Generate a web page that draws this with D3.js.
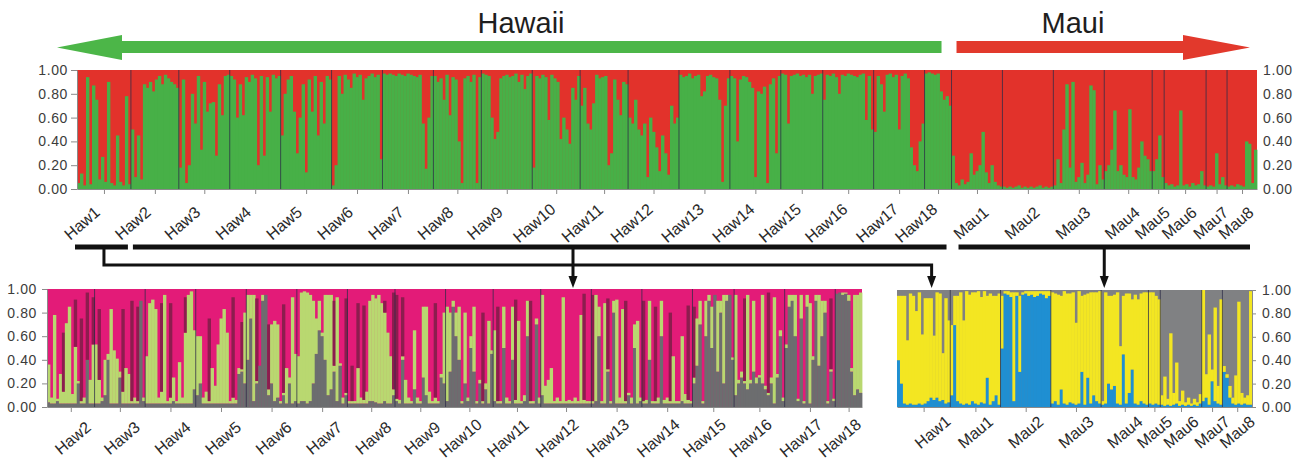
<!DOCTYPE html>
<html><head><meta charset="utf-8">
<script src="https://cdn.jsdelivr.net/npm/d3@7"></script>
<style>
body{margin:0;background:#fff;}
svg{display:block;font-family:"Liberation Sans",Arial,sans-serif;}
</style></head><body>
<svg id="c" width="1306" height="468"></svg>
<script>
// ---------- DATA ----------
const yTicks = [0, 0.2, 0.4, 0.6, 0.8, 1.0];
const regionNames = ["Hawaii", "Maui"];

// Top panel (K=2): percent membership in green (Hawaii) cluster, rest red (Maui)
const topPops = ["Haw1","Haw2","Haw3","Haw4","Haw5","Haw6","Haw7","Haw8","Haw9","Haw10","Haw11","Haw12","Haw13","Haw14","Haw15","Haw16","Haw17","Haw18","Mau1","Mau2","Mau3","Mau4","Mau5","Mau6","Mau7","Mau8"];
const topGreen = [
 [5,13,3,94,4,87,75,8,27,6,90,5,3,45,6,3,78,4],
 [50,10,45,8,88,85,90,82,92,95,88,96,93,90,88,85],
 [18,92,5,20,80,55,95,33,90,65,72,73,28,88,62,95,96],
 [95,92,60,88,62,94,90,96,93,20,95,28,94,65,96,93,95],
 [45,80,92,95,65,30,60,88,14,92,65,95,45,90,55,95,92],
 [3,20,95,80,96,92,85,97,94,96,75,93,95,97,94,96,25],
 [97,96,97,96,95,97,96,95,97,96,95,94,96,55,17,60,95],
 [95,90,93,75,96,62,94,92,40,5,93,95,90,96,5,94],
 [97,96,95,60,42,48,93,95,96,94,95,97,90,96,84,95,97],
 [18,95,93,96,94,58,96,93,90,42,60,50,38,85,75,95],
 [70,85,55,50,72,96,93,94,95,20,30,92,75,62,90,88],
 [60,55,75,50,45,55,10,60,48,35,15,45,30,12,70,55,60],
 [96,94,95,97,93,95,96,78,82,95,96,94,93,75,6,70,93],
 [95,93,40,92,95,94,90,85,10,82,80,86,5,88,93,30,95],
 [97,96,55,95,96,97,95,96,94,96,80,95,96,97],
 [75,96,95,97,94,80,96,95,97,96,95,94,96,97,58,95,50],
 [48,95,88,65,96,97,94,96,50,95,97,93,35,20,15,40,55],
 [97,98,97,96,97,82,75,78,70],
 [28,5,3,8,4,6,30,12,15,20,48,14,5,20,6,3,2],
 [2,1,2,1,2,3,1,2,1,2,1,2,3,1,2,1,2],
 [3,25,5,50,88,18,90,6,10,22,5,12,87,83,4,20,8],
 [15,20,33,66,15,20,12,10,67,10,8,18,40,28,25,15],
 [15,25,45,10],
 [5,3,4,2,3,66,3,4,2,5,3,4,15,3],
 [2,3,2,30,4,10,3],
 [2,3,2,4,3,2,40,38,5,33]
];

// Bottom-left panel (Hawaii only): percent [gray, light green, maroon], rest magenta
const blPops = ["Haw2","Haw3","Haw4","Haw5","Haw6","Haw7","Haw8","Haw9","Haw10","Haw11","Haw12","Haw13","Haw14","Haw15","Haw16","Haw17","Haw18"];
const blQ = [
 [[4,32,0],[3,5,0],[3,75,0],[5,2,0],[3,25,0],[3,10,50],[3,68,0],[3,82,0],[3,8,0],[3,48,40],[20,2,0],[3,2,70],[3,5,0],[40,0,57],[3,20,0],[3,50,40]],
 [[3,50,0],[3,20,60],[5,3,0],[10,30,0],[40,5,0],[3,80,0],[3,45,0],[3,38,0],[25,5,0],[3,10,70],[3,30,0],[3,25,0],[3,2,85],[3,5,0],[3,2,80],[90,0,0],[5,3,0]],
 [[3,40,0],[3,85,0],[3,88,0],[3,80,0],[3,5,0],[3,10,75],[3,92,0],[3,2,0],[3,5,80],[5,20,0],[3,2,0],[3,35,0],[3,5,0],[3,60,30],[3,92,0],[3,95,0],[15,50,0]],
 [[10,50,0],[20,40,0],[3,5,0],[3,10,0],[3,2,70],[3,30,0],[3,15,0],[3,50,0],[3,72,0],[3,80,0],[3,60,0],[3,2,0],[3,5,85],[3,3,0],[28,5,0],[30,2,40],[20,60,0]],
 [[40,55,0],[75,20,0],[5,90,0],[20,2,70],[35,0,0],[90,5,0],[95,0,0],[10,5,55],[20,50,0],[5,68,0],[8,62,0],[3,2,0],[10,2,75],[3,30,0],[20,5,0],[3,90,0],[5,40,0]],
 [[3,40,0],[5,92,0],[5,93,0],[3,94,0],[5,90,0],[20,70,0],[45,30,0],[65,25,0],[60,3,0],[40,55,0],[10,85,0],[15,80,0],[30,5,55],[5,88,0],[35,2,0],[3,5,0],[10,2,80]],
 [[3,2,0],[3,2,30],[3,2,0],[3,30,55],[3,5,0],[3,3,80],[3,10,0],[5,85,0],[5,90,0],[4,88,0],[3,92,0],[3,85,0],[5,75,10],[3,60,0],[3,40,0],[10,5,82]],
 [[5,2,88],[3,3,0],[40,3,50],[3,20,0],[3,5,0],[3,2,0],[15,50,0],[3,5,0],[3,2,0],[25,60,0],[10,75,0],[3,10,0],[3,2,0],[3,5,80],[3,2,0],[25,3,0],[20,60,0]],
 [[5,80,0],[30,50,0],[85,5,0],[60,20,0],[40,45,0],[3,2,0],[20,60,0],[5,3,0],[50,10,0],[30,55,0],[3,2,0],[20,3,0],[3,2,75],[15,5,0],[3,70,0],[45,3,0]],
 [[5,60,0],[3,2,80],[3,2,0],[50,35,0],[3,5,0],[3,2,0],[40,45,0],[3,3,85],[3,70,0],[3,2,0],[5,5,0],[60,30,0],[3,2,85],[3,2,0],[70,5,0],[3,5,0]],
 [[10,85,0],[3,15,0],[3,20,0],[3,30,0],[3,2,0],[3,5,0],[3,2,0],[3,90,0],[3,2,0],[3,3,0],[3,2,0],[3,5,0],[3,2,0],[3,75,0],[3,3,90],[3,2,0],[3,2,0]],
 [[3,2,90],[5,90,0],[60,25,0],[3,2,0],[3,85,0],[30,2,60],[3,2,0],[80,10,0],[3,88,0],[3,5,0],[3,80,0],[3,2,85],[10,2,0],[3,5,0],[50,20,0],[3,70,0],[5,3,0]],
 [[3,2,85],[3,3,0],[40,50,0],[3,2,0],[3,2,80],[3,5,0],[60,30,0],[3,3,0],[3,5,0],[3,2,75],[3,40,0],[3,2,0],[3,2,0],[5,55,0],[3,8,0],[3,3,80],[3,2,0]],
 [[20,5,60],[35,40,0],[70,20,0],[3,2,0],[60,30,0],[90,5,0],[50,35,0],[95,0,0],[30,60,0],[80,10,0],[20,75,0],[90,5,0],[95,0,0],[40,2,0]],
 [[10,85,0],[20,3,0],[25,5,0],[20,2,70],[15,80,0],[20,3,0],[30,60,0],[20,5,0],[25,2,0],[20,75,0],[15,3,0],[10,2,85],[20,5,0],[3,90,0],[25,3,0],[60,5,0],[5,3,0]],
 [[50,3,0],[85,10,0],[90,5,0],[60,35,0],[5,2,0],[75,20,0],[3,2,0],[85,10,0],[3,85,0],[40,3,0],[90,5,0],[35,60,0],[60,30,0],[80,10,0],[3,2,0],[30,2,60],[5,2,0]],
 [[96,0,0],[97,0,0],[95,2,0],[96,1,0],[90,5,0],[30,3,0],[10,85,0],[15,80,0],[12,85,0]]
];

// Bottom-right panel (Haw1 + Maui): percent [blue, yellow], rest gray
const brPops = ["Haw1","Mau1","Mau2","Mau3","Mau4","Mau5","Mau6","Mau7","Mau8"];
const brQ = [
 [[40,55],[20,75],[3,92],[2,55],[3,94],[2,93],[2,80],[3,95],[2,60],[3,90],[5,88],[8,85],[6,55],[8,90],[5,92],[6,40],[3,90],[4,70]],
 [[10,60],[70,25],[5,90],[3,95],[2,72],[3,96],[2,94],[5,93],[3,95],[2,97],[4,90],[3,96],[25,70],[2,95],[5,90],[10,85],[2,95]],
 [[50,45],[97,2],[96,3],[94,4],[5,93],[95,3],[30,65],[96,2],[97,2],[95,4],[96,3],[94,5],[95,4],[97,2],[96,3],[93,6],[95,4]],
 [[3,95],[5,92],[2,94],[15,80],[3,96],[2,95],[4,93],[3,95],[2,70],[3,96],[30,65],[2,94],[25,72],[3,95],[10,88],[5,93],[3,96]],
 [[2,3],[3,95],[20,75],[15,80],[18,78],[3,95],[2,50],[45,50],[3,94],[12,85],[32,60],[3,93],[2,90],[5,92],[3,95],[2,96]],
 [[3,95],[2,96],[3,92],[2,90]],
 [[2,8],[1,25],[2,5],[1,62],[2,10],[3,35],[1,4],[2,12],[1,3],[2,6],[1,2],[2,5],[1,3],[3,8]],
 [[5,95],[8,20],[2,60],[22,10],[5,80],[3,15],[2,90]],
 [[30,5],[25,3],[8,10],[3,5],[2,25],[3,87],[2,10],[3,5],[2,8],[2,97]]
];

// ---------- DRAW ----------
const svg = d3.select("#c");
const FONT_TICK = "14px";
const AX_COL = "#8a8a8a";

function flatten(pops, q, toParts){
  const inds = [], groups = [];
  let idx = 0;
  q.forEach((arr, p) => {
    groups.push({name: pops[p], start: idx, end: idx + arr.length});
    arr.forEach(v => { inds.push({i: idx, parts: toParts(v)}); idx++; });
  });
  return {inds, groups, n: idx};
}

function drawStack(g, x, y, data, colors){
  const [y0, y1] = y.range();
  // background = top-most color
  g.append("rect").attr("x", x(0)).attr("y", y1).attr("width", x(data.n) - x(0)).attr("height", y0 - y1)
    .attr("fill", colors[colors.length - 1]);
  data.inds.forEach(d => {
    let cum = 0;
    d.parts.forEach((f, k) => {
      if (k === colors.length - 1) return;
      if (f <= 0) { return; }
      g.append("rect")
        .attr("x", x(d.i)).attr("width", x(d.i + 1) - x(d.i) + 0.4)
        .attr("y", y(Math.min(1, cum + f))).attr("height", y(cum) - y(Math.min(1, cum + f)))
        .attr("fill", colors[k]);
      cum += f;
    });
  });
  // population separators
  data.groups.slice(1).forEach(gr => {
    g.append("line").attr("x1", x(gr.start)).attr("x2", x(gr.start))
      .attr("y1", y1).attr("y2", y0).attr("stroke", "#2c2c48").attr("stroke-width", 1).attr("opacity", 0.75);
  });
}

function styleAxis(sel){
  sel.selectAll("path").attr("stroke", AX_COL);
  sel.selectAll("line").attr("stroke", AX_COL);
  sel.selectAll("text").attr("fill", "#3c3c3c").style("font-size", FONT_TICK).style("letter-spacing", "0.6px");
}

function drawXAxis(g, x, y, data, labelY, offsetFn, angle){
  const centers = data.groups.map(gr => (gr.start + gr.end) / 2);
  const ax = g.append("g").attr("transform", `translate(0,${y.range()[0]})`)
    .call(d3.axisBottom(x).tickValues(centers).tickFormat("").tickSize(5).tickSizeOuter(0));
  styleAxis(ax);
  data.groups.forEach((gr, k) => {
    const cx = x(centers[k]) + offsetFn(gr.name);
    g.append("text").attr("transform", `translate(${cx},${labelY}) rotate(${angle})`)
      .attr("text-anchor", "middle").attr("dy", "0.35em")
      .style("font-size", "16px").attr("fill", "#2a2a2a").text(gr.name);
  });
}

// ===== Top panel =====
const topData = flatten(topPops, topGreen, v => [v / 100, 1 - v / 100]);
const xT = d3.scaleLinear().domain([0, topData.n]).range([77, 1257]);
const yT = d3.scaleLinear().domain([0, 1]).range([189, 70]);
const gT = svg.append("g");
drawStack(gT, xT, yT, topData, ["#47b047", "#e2322b"]);
styleAxis(gT.append("g").attr("transform", `translate(${xT(0)},0)`)
  .call(d3.axisLeft(yT).tickValues(yTicks).tickFormat(d3.format(".2f")).tickSize(6).tickPadding(3).tickSizeOuter(0)));
styleAxis(gT.append("g").attr("transform", `translate(${xT(topData.n)},0)`)
  .call(d3.axisRight(yT).tickValues(yTicks).tickFormat(d3.format(".2f")).tickSize(0).tickPadding(6)))
  ;
gT.selectAll(".domain").filter((d,i)=>i===1).attr("stroke","none");
drawXAxis(gT, xT, yT, topData, 223, n => n.startsWith("Haw") ? -22 : -6, -41);

// Region arrows and titles
const hawN = topData.groups.filter(g => g.name.startsWith("Haw"));
const mauN = topData.groups.filter(g => g.name.startsWith("Mau"));
const hawEnd = hawN[hawN.length - 1].end, mauStart = mauN[0].start;
svg.append("path").attr("fill", "#4cb648")
  .attr("d", `M57,47.5 L122,35 L122,41 L${xT(hawEnd)-10},41 L${xT(hawEnd)-10},53 L122,53 L122,60 Z`);
svg.append("path").attr("fill", "#e2392c")
  .attr("d", `M${xT(mauStart)+5},41 L1183,41 L1183,35 L1250,47.5 L1183,60 L1183,53 L${xT(mauStart)+5},53 Z`);
svg.append("text").attr("x", 521).attr("y", 33).attr("text-anchor", "middle")
  .style("font-size", "29px").attr("fill", "#1e1e1e").text(regionNames[0]);
svg.append("text").attr("x", 1073).attr("y", 33).attr("text-anchor", "middle")
  .style("font-size", "29px").attr("fill", "#1e1e1e").text(regionNames[1]);

// ===== Bottom-left panel =====
const blData = flatten(blPops, blQ, v => [v[0]/100, v[1]/100, v[2]/100, Math.max(0, 1 - (v[0]+v[1]+v[2])/100)]);
const xBL = d3.scaleLinear().domain([0, blData.n]).range([47, 862]);
const yBL = d3.scaleLinear().domain([0, 1]).range([407, 289]);
const gBL = svg.append("g");
drawStack(gBL, xBL, yBL, blData, ["#6c6d6f", "#b9d870", "#8c1d4e", "#e31b78"]);
styleAxis(gBL.append("g").attr("transform", `translate(${xBL(0)},0)`)
  .call(d3.axisLeft(yBL).tickValues(yTicks).tickFormat(d3.format(".2f")).tickSize(5).tickPadding(5).tickSizeOuter(0)));
drawXAxis(gBL, xBL, yBL, blData, 438, n => n.length > 4 ? -9 : 2, -40);

// ===== Bottom-right panel =====
const brData = flatten(brPops, brQ, v => [v[0]/100, v[1]/100, Math.max(0, 1 - (v[0]+v[1])/100)]);
const xBR = d3.scaleLinear().domain([0, brData.n]).range([897, 1252]);
const yBR = d3.scaleLinear().domain([0, 1]).range([407, 290]);
const gBR = svg.append("g");
drawStack(gBR, xBR, yBR, brData, ["#1f8fd2", "#f3e622", "#808183"]);
styleAxis(gBR.append("g").attr("transform", `translate(${xBR(brData.n)},0)`)
  .call(d3.axisRight(yBR).tickValues(yTicks).tickFormat(d3.format(".2f")).tickSize(4).tickPadding(6).tickSizeOuter(0)));
drawXAxis(gBR, xBR, yBR, brData, 432, n => n === "Haw1" ? 9 : 0, -40);

// ===== Connectors =====
const conn = svg.append("g").attr("stroke", "#111").attr("fill", "none");
const h1 = topData.groups[0];
const segY = 247, lowY = 265;
conn.append("line").attr("x1", xT(h1.start) - 2).attr("x2", xT(h1.end) - 3).attr("y1", segY).attr("y2", segY).attr("stroke-width", 5);
conn.append("line").attr("x1", xT(h1.end) + 2).attr("x2", xT(hawEnd) - 5).attr("y1", segY).attr("y2", segY).attr("stroke-width", 5);
conn.append("line").attr("x1", xT(mauStart) + 7).attr("x2", xT(topData.n) - 7).attr("y1", segY).attr("y2", segY).attr("stroke-width", 5);

const brH1 = brData.groups[0];
const arrowX1 = xBR((brH1.start + brH1.end) / 2) + 8;
const arrowX2 = 573;
const arrowX3 = (xT(mauStart) + xT(topData.n)) / 2;
conn.append("path").attr("stroke-width", 3)
  .attr("d", `M${xT((h1.start + h1.end) / 2)},${segY} V${lowY} H${arrowX1} V279`);
conn.append("path").attr("stroke-width", 3).attr("d", `M${arrowX2},${segY} V279`);
conn.append("path").attr("stroke-width", 3).attr("d", `M${arrowX3},${segY} V279`);
[arrowX1, arrowX2, arrowX3].forEach(ax => {
  svg.append("path").attr("fill", "#111")
    .attr("d", `M${ax - 4.5},276 L${ax + 4.5},276 L${ax},288 Z`);
});
</script>
</body></html>
